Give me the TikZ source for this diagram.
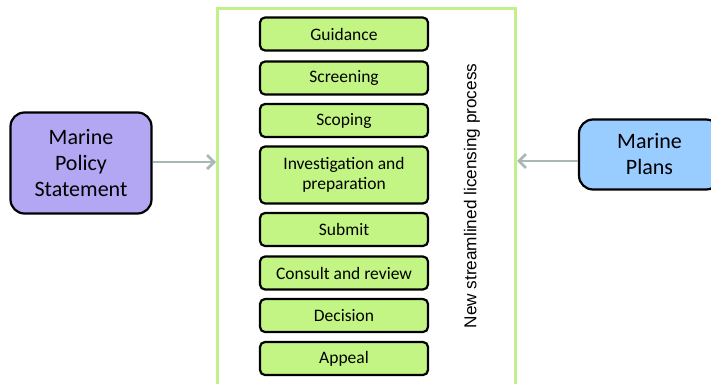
\documentclass[tikz,border=0pt]{standalone}
\usepackage{fontspec}
\setmainfont{Carlito}
\newfontfamily\arialike{Liberation Sans}
\usepackage{tikz}
\usetikzlibrary{positioning, arrows.meta}

\definecolor{stepgreen}{HTML}{C3F584}
\definecolor{framegreen}{HTML}{C2F08A}
\definecolor{mpslilac}{HTML}{B3A6F2}
\definecolor{planblue}{HTML}{99CCFF}
\definecolor{feedgrey}{HTML}{A7B8B5}

\begin{document}
\begin{tikzpicture}[
  x=1pt, y=-1pt,
  stage/.style={draw=black, line width=2.2pt, rounded corners=5pt, fill=stepgreen,
    minimum width=168pt, align=center, inner sep=2pt,
    font=\fontsize{17.5}{20}\selectfont},
  source/.style={draw=black, line width=2.2pt, rounded corners=14pt, align=center,
    font=\fontsize{22}{26}\selectfont},
  frame/.style={draw=framegreen, line width=3pt, minimum width=298pt,
    minimum height=420pt, inner sep=0pt},
  feed/.style={-{Straight Barb[length=7pt,width=14pt]}, draw=feedgrey, line width=2.8pt},
]
  \useasboundingbox (0,0) rectangle (711,383);
  \clip (0,0) rectangle (711,383);

  \node[frame, anchor=north west] (frame) at (216,7) {};

  \node[stage, minimum height=33pt] (guid) at (344,34) {Guidance};
  \node[stage, minimum height=33pt] (scre) at (344,78) {Screening};
  \node[stage, minimum height=33pt] (scop) at (344,120.5) {Scoping};
  \node[stage, minimum height=57pt] (inve) at (344,175) {Investigation and\\preparation};
  \node[stage, minimum height=33pt] (subm) at (344,229.5) {Submit};
  \node[stage, minimum height=33pt] (cons) at (344,273) {Consult and review};
  \node[stage, minimum height=33pt] (deci) at (344,315.5) {Decision};
  \node[stage, minimum height=33pt] (appe) at (344,358.5) {Appeal};

  \node[rotate=90, font=\arialike\fontsize{17.2}{20}\selectfont] (lbl) at (472,196)
    {New streamlined licensing process};

  \node[source, fill=mpslilac, minimum width=141pt, minimum height=101pt] (mps)
    at (81,163) {Marine\\Policy\\Statement};
  \node[source, fill=planblue, minimum width=141pt, minimum height=70pt] (plans)
    at (649.5,154.5) {Marine\\Plans};

  \draw[feed] (mps.east |- 0,162) coordinate (a1) -- (a1 -| frame.west);
  \draw[feed] (plans.west |- 0,161) coordinate (a2) -- (a2 -| frame.east);
\end{tikzpicture}
\end{document}
